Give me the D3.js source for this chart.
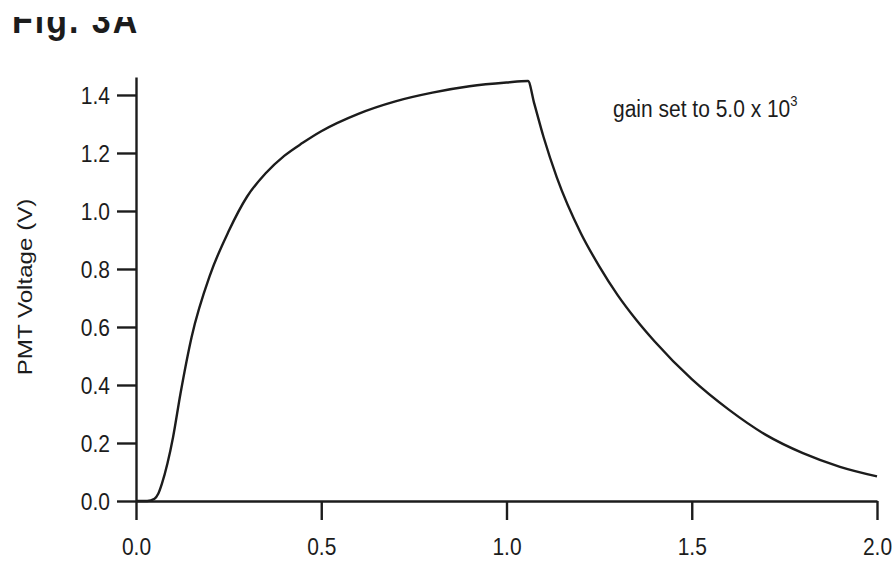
<!DOCTYPE html>
<html>
<head>
<meta charset="utf-8">
<script src="https://cdn.jsdelivr.net/npm/d3@7"></script>
<style>
  body { margin: 0; background: #fff; }
  svg { display: block; }
</style>
</head>
<body>
<div id="chart"></div>
<script>
// values
const timeS = [0.00, 0.03, 0.05, 0.06, 0.07, 0.085, 0.10, 0.12, 0.15, 0.20, 0.25, 0.30, 0.35, 0.40, 0.45, 0.50, 0.60, 0.70, 0.80, 0.90, 1.00, 1.058,
  1.075, 1.10, 1.136, 1.20, 1.25, 1.30, 1.35, 1.40, 1.50, 1.60, 1.70, 1.80, 1.90, 2.00]
const pmtVolts = [0.00, 0.00, 0.008, 0.025, 0.06, 0.13, 0.22, 0.37, 0.565, 0.78, 0.93, 1.05, 1.13, 1.19, 1.235, 1.275, 1.335, 1.378, 1.408, 1.43, 1.443, 1.448,
  1.37, 1.255, 1.115, 0.925, 0.81, 0.71, 0.625, 0.55, 0.42, 0.315, 0.228, 0.165, 0.118, 0.085]
const xTicks = [0, 0.5, 1.0, 1.5, 2.0]
const yTicks = [0, 0.2, 0.4, 0.6, 0.8, 1.0, 1.2, 1.4]
const figLabel = 'Fig. 3A'
const yTitle = 'PMT Voltage (V)'
const noteText = 'gain set to 5.0 x 10'
const noteSup = '3'

const width = 893, height = 561
const ink = '#1c1c1c'
const font = '"Liberation Sans", Arial, sans-serif'
const stretch = 1.15 // scan is a bit taller than wide

const svg = d3.select('#chart').append('svg')
  .attr('width', width)
  .attr('height', height)
  .attr('viewBox', `0 0 ${width} ${height}`)

const x = d3.scaleLinear().domain([0, 2]).range([136, 877])
const y = d3.scaleLinear().domain([0, 1.462]).range([501, 77])

// title, top of it cut off like in the scan
svg.append('clipPath').attr('id', 'topcut')
  .append('rect').attr('x', 0).attr('y', 17).attr('width', 300).attr('height', 40)
svg.append('g').attr('clip-path', 'url(#topcut)')
  .append('text')
    .attr('transform', `translate(12, 33) scale(1, ${stretch})`)
    .attr('font-family', font)
    .attr('font-weight', 'bold')
    .attr('font-size', 34)
    .attr('letter-spacing', 2)
    .attr('fill', ink)
    .text(figLabel)

const yAxis = svg.append('g')
  .attr('transform', `translate(${x(0)}, 0)`)
  .call(d3.axisLeft(y).tickValues(yTicks).tickSize(19).tickSizeOuter(0).tickFormat(d3.format('.1f')))
const xAxis = svg.append('g')
  .attr('transform', `translate(0, ${y(0)})`)
  .call(d3.axisBottom(x).tickValues(xTicks).tickSize(19).tickSizeOuter(0).tickFormat(d3.format('.1f')))

;[xAxis, yAxis].forEach(a => {
  a.select('.domain').attr('stroke', ink).attr('stroke-width', 2.4)
  a.selectAll('.tick line').attr('stroke', ink).attr('stroke-width', 2.4)
  a.selectAll('.tick text')
    .attr('fill', ink)
    .attr('font-family', font)
    .attr('font-size', 21)
    .attr('x', 0).attr('y', 0)
    .attr('dy', '0.35em')
})
xAxis.selectAll('.tick text')
  .attr('text-anchor', 'middle')
  .attr('transform', `translate(0, 46) scale(1, ${stretch})`)
yAxis.selectAll('.tick text')
  .attr('text-anchor', 'end')
  .attr('transform', `translate(-26, 0) scale(1, ${stretch})`)

svg.append('text')
  .attr('transform', `translate(25, 287) rotate(-90) scale(${stretch}, 1)`)
  .attr('text-anchor', 'middle')
  .attr('dy', '0.35em')
  .attr('font-family', font)
  .attr('font-size', 21)
  .attr('fill', ink)
  .text(yTitle)

const note = svg.append('text')
  .attr('transform', `translate(613, 117) scale(1, ${stretch})`)
  .attr('font-family', font)
  .attr('font-size', 21)
  .attr('fill', ink)
note.append('tspan').text(noteText)
note.append('tspan').attr('dy', -10).attr('font-size', 13).text(noteSup)

const line = d3.line()
  .x(d => x(d[0]))
  .y(d => y(d[1]))
  .curve(d3.curveMonotoneX)

svg.append('path')
  .datum(d3.zip(timeS, pmtVolts))
  .attr('d', line)
  .attr('fill', 'none')
  .attr('stroke', ink)
  .attr('stroke-width', 2.4)
</script>
</body>
</html>
